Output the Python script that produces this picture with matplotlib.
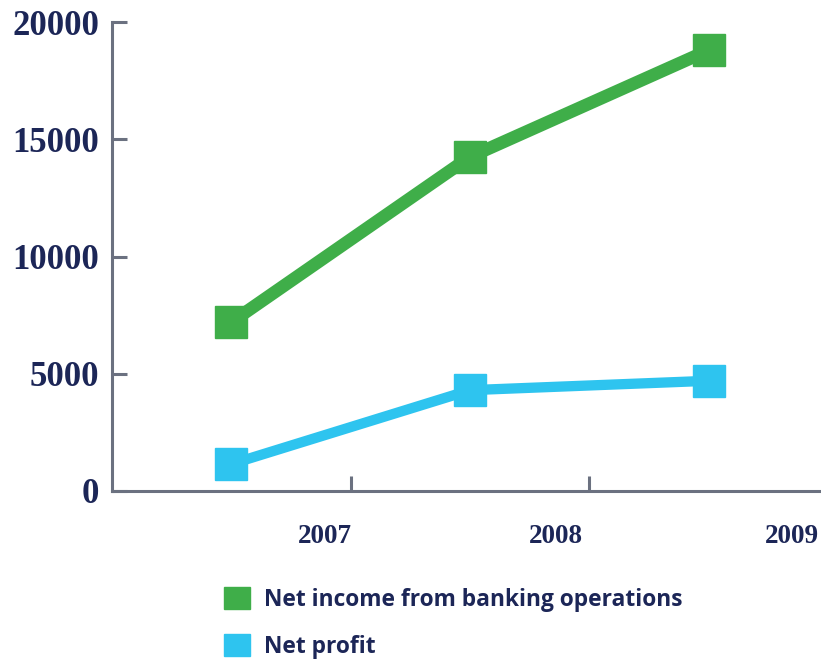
import matplotlib
matplotlib.use("Agg")
import matplotlib.pyplot as plt
from matplotlib.patches import Patch

years = ["2007", "2008", "2009"]
net_income = [7200, 14250, 18800]
net_profit = [1150, 4300, 4700]

GREEN = "#3fae49"
BLUE = "#2ec4ef"
NAVY = "#1c2657"
AXIS = "#6b7180"

fig = plt.figure(figsize=(8.21, 6.61), dpi=100)
ax = fig.add_axes([0.1364, 0.2572, 0.8636, 0.7095])

x = list(range(len(years)))
ax.plot(x, net_income, color=GREEN, lw=9.2, marker="s", ms=23.5,
        solid_joinstyle="miter", clip_on=False, zorder=3)
ax.plot(x, net_profit, color=BLUE, lw=7.4, marker="s", ms=23.5,
        solid_joinstyle="miter", clip_on=False, zorder=3)

ax.set_xlim(-0.5, 2.47)
ax.set_ylim(0, 20000)

for s in ("top", "right"):
    ax.spines[s].set_visible(False)
for s in ("left", "bottom"):
    ax.spines[s].set_color(AXIS)
    ax.spines[s].set_linewidth(2.2)

ax.set_yticks([0, 5000, 10000, 15000, 20000])
ax.tick_params(axis="y", direction="in", length=11, width=2.2, color=AXIS,
               pad=9, labelsize=25, labelcolor=NAVY)
for t in ax.get_yticklabels():
    t.set_fontfamily("Liberation Serif")
    t.set_fontweight("bold")

# year ticks sit between the points, labels are offset
ax.set_xticks([0.5, 1.5])
ax.set_xticklabels([])
ax.tick_params(axis="x", which="major", direction="in", length=11, width=2.2, color=AXIS)
ax.set_xticks([0.39, 1.36, 2.35], minor=True)
ax.set_xticklabels(years, minor=True)
ax.tick_params(axis="x", which="minor", length=0, pad=24, labelsize=19.5, labelcolor=NAVY)
for t in ax.get_xticklabels(minor=True):
    t.set_fontfamily("Liberation Serif")
    t.set_fontweight("bold")

handles = [Patch(color=GREEN, label="Net income from banking operations"),
           Patch(color=BLUE, label="Net profit")]
leg = fig.legend(handles=handles, loc="upper left",
                 bbox_to_anchor=(224 / 821, 1 - 587 / 661),
                 frameon=False, borderpad=0, borderaxespad=0,
                 handlelength=1.14, handleheight=1.14, handletextpad=0.6,
                 labelspacing=0.95,
                 prop={"family": "Open Sans", "weight": "bold", "size": 16.4})
for t in leg.get_texts():
    t.set_color(NAVY)

fig.savefig("out.png", dpi=100)
